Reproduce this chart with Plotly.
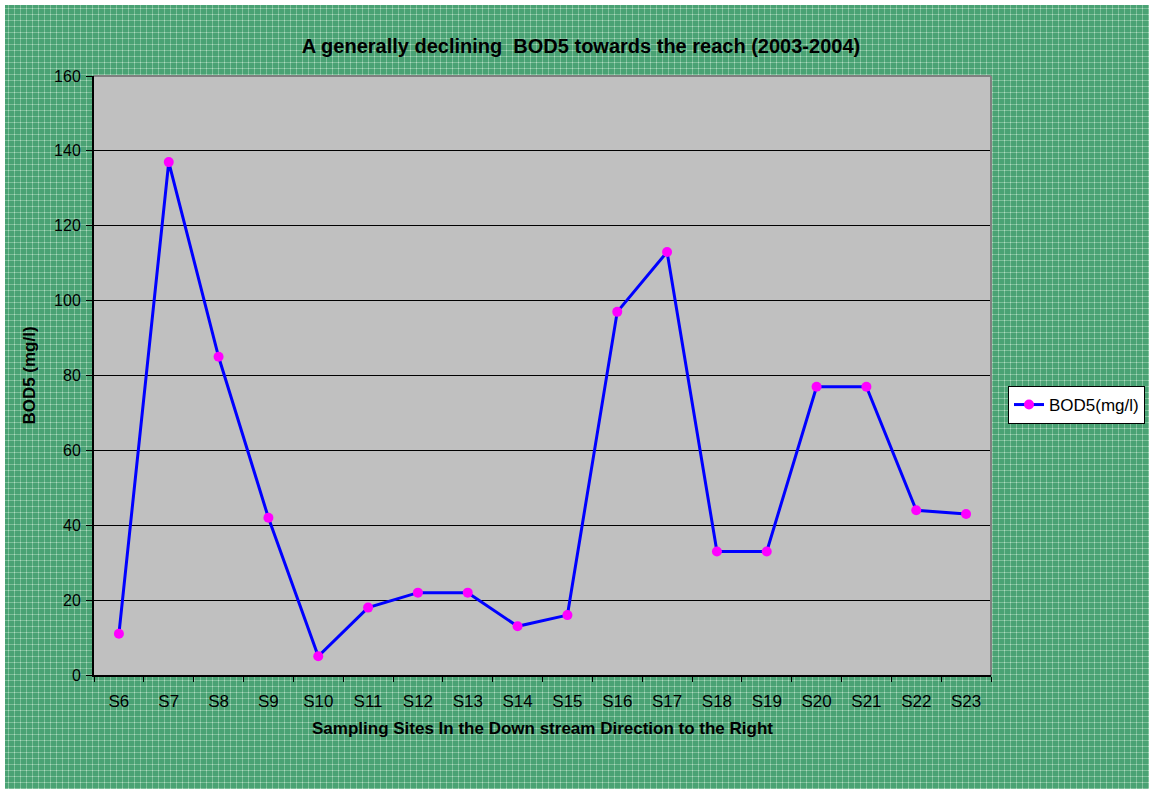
import base64
import plotly.graph_objects as go

# BOD5 measurements per sampling site, upstream to downstream
sites = ["S6", "S7", "S8", "S9", "S10", "S11", "S12", "S13", "S14",
         "S15", "S16", "S17", "S18", "S19", "S20", "S21", "S22", "S23"]
bod5 = [11, 137, 85, 42, 5, 18, 22, 22, 13, 16, 97, 113, 33, 33, 77, 77, 44, 43]
y_ticks = [0, 20, 40, 60, 80, 100, 120, 140, 160]

W, H = 1149, 789
ML, MR, MT, MB = 94, 158, 76, 114
PW, PH = W - ML - MR, H - MT - MB

# woven green fill for the page background, built as a tiled SVG pattern
pattern_svg = f"""<svg xmlns="http://www.w3.org/2000/svg" width="{W}" height="{H}" viewBox="0 0 {W} {H}" preserveAspectRatio="none">
<defs><pattern id="weave" width="6" height="6" patternUnits="userSpaceOnUse">
<rect width="6" height="6" fill="#4AA274"/>
<rect x="0" y="2" width="6" height="1" fill="#7DBF99"/>
<rect x="2" y="0" width="1" height="6" fill="#7DBF99"/>
<rect x="2" y="2" width="1" height="1" fill="#B0DBC3"/>
</pattern></defs>
<rect width="{W}" height="{H}" fill="url(#weave)"/>
</svg>"""
pattern_uri = "data:image/svg+xml;base64," + base64.b64encode(pattern_svg.encode()).decode()

fig = go.Figure()
fig.add_trace(go.Scatter(
    x=sites, y=bod5, mode="lines+markers", name="BOD5(mg/l)",
    line=dict(color="#0000FF", width=3),
    marker=dict(color="#FF00FF", size=10, line=dict(width=0)),
))

fig.add_layout_image(dict(
    source=pattern_uri, xref="paper", yref="paper",
    x=-ML / PW, y=(PH + MT) / PH, sizex=W / PW, sizey=H / PH,
    xanchor="left", yanchor="top", sizing="stretch", layer="below",
))

# grey plot area drawn over the patterned page
fig.add_shape(type="rect", xref="paper", yref="paper", x0=0, x1=1, y0=0, y1=1,
              fillcolor="#C0C0C0", line_width=0, layer="below")
# thin white strip along the top and left edges of the page
fig.add_shape(type="rect", xref="paper", yref="paper",
              x0=-ML / PW, x1=(-ML + 5) / PW, y0=-MB / PH, y1=(PH + MT) / PH,
              fillcolor="white", line_width=0, layer="below")
fig.add_shape(type="rect", xref="paper", yref="paper",
              x0=-ML / PW, x1=(PW + MR) / PW, y0=(PH + MT - 5) / PH, y1=(PH + MT) / PH,
              fillcolor="white", line_width=0, layer="below")
# grey frame on the top and right sides of the plot area
fig.add_shape(type="line", xref="paper", yref="paper", x0=0, x1=1, y0=1, y1=1,
              line=dict(color="#808080", width=2))
fig.add_shape(type="line", xref="paper", yref="paper", x0=1, x1=1, y0=0, y1=1,
              line=dict(color="#808080", width=2))

fig.update_layout(
    width=W, height=H,
    margin=dict(l=ML, r=MR, t=MT, b=MB, autoexpand=False),
    paper_bgcolor="#59AB80",
    plot_bgcolor="rgba(0,0,0,0)",
    font=dict(family="Liberation Sans, Arial, sans-serif", color="black", size=16),
    title=dict(text="<b>A generally declining  BOD5 towards the reach (2003-2004)</b>",
               x=581 / W, xanchor="center", y=1 - 46 / H, yanchor="middle",
               font=dict(size=20)),
    showlegend=True,
    legend=dict(x=(1008 - ML) / PW, y=(H - MB - 405) / PH, xanchor="left", yanchor="middle",
                bgcolor="white", bordercolor="black", borderwidth=1,
                font=dict(size=17), itemwidth=30, tracegroupgap=0),
    xaxis=dict(
        type="category", tickson="boundaries", ticks="outside", ticklen=5,
        tickcolor="black", showline=True, linecolor="black", linewidth=2,
        showgrid=False, tickfont=dict(size=17), range=[-0.5, len(sites) - 0.5],
        ticklabelstandoff=10,
        title=dict(text="<b>Sampling Sites In the Down stream Direction to the Right</b>",
                   font=dict(size=17), standoff=12),
    ),
    yaxis=dict(
        range=[0, 160], tickvals=y_ticks, ticks="outside", ticklen=6,
        tickcolor="black", showline=True, linecolor="black", linewidth=2,
        showgrid=True, gridcolor="black", gridwidth=1, zeroline=False,
        tickfont=dict(size=16), ticklabelstandoff=2,
        title=dict(text="<b>BOD5 (mg/l)</b>", font=dict(size=17), standoff=14),
    ),
)

fig.write_html("out.html")
